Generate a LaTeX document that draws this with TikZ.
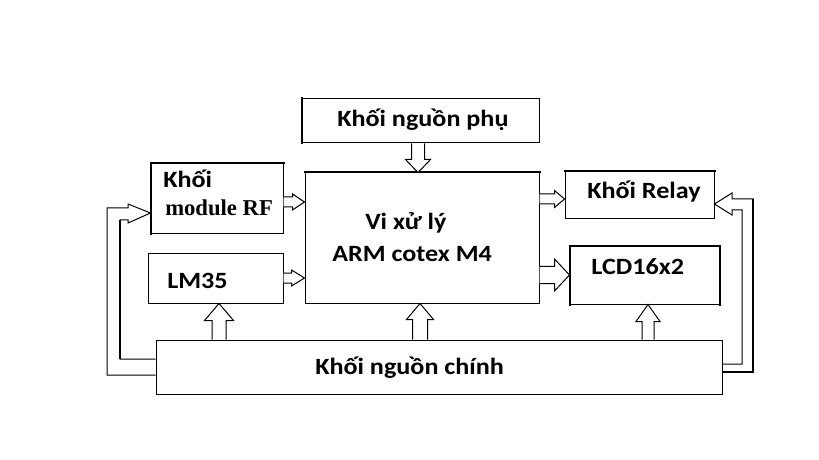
\documentclass[tikz,border=0pt]{standalone}
\usepackage{fontspec}
\setmainfont{Carlito}[FakeStretch=1.12]
\newfontfamily\tnr{Liberation Serif}
\usetikzlibrary{fit,calc}
% vertical block arrow: #1 x(px) #2 from #3 to #4 shaft half #5 head half #6 head length (px, signed)
\newcommand\blkv[6]{\draw[blk] let \p1=(#1,0 |- #2), \p2=(#1,0 |- #3) in
  (\x1-#4*0.75pt,\y1) -- (\x1-#4*0.75pt,\y2-#6*0.75pt) -- (\x1-#5*0.75pt,\y2-#6*0.75pt) -- (\x2,\y2)
  -- (\x1+#5*0.75pt,\y2-#6*0.75pt) -- (\x1+#4*0.75pt,\y2-#6*0.75pt) -- (\x1+#4*0.75pt,\y1);}
% horizontal block arrow: #1 y(px)
\newcommand\blkh[6]{\draw[blk] let \p1=(#2 |- 0,#1), \p2=(#3 |- 0,#1) in
  (\x1,\y1+#4*0.75pt) -- (\x2-#6*0.75pt,\y1+#4*0.75pt) -- (\x2-#6*0.75pt,\y1+#5*0.75pt) -- (\x2,\y2)
  -- (\x2-#6*0.75pt,\y1-#5*0.75pt) -- (\x2-#6*0.75pt,\y1-#4*0.75pt) -- (\x1,\y1-#4*0.75pt);}
\begin{document}
\begin{tikzpicture}[x=0.75pt,y=-0.75pt,
  box/.style={draw, line width=0.75pt, inner sep=0pt},
  blk/.style={draw, line width=0.75pt, fill=white, line join=miter},
  lbl/.style={anchor=base west, inner sep=0pt, font=\bfseries\fontsize{17.5}{20}\selectfont},
  wire/.style={draw, line width=0.75pt, line join=miter},
  edge/.style={line width=1.5pt, line cap=rect}]
\fill[white] (0,0) rectangle (819,460);
\useasboundingbox (0,0) rectangle (819,460);
% boxes
\node[box, fit={(302,99)(539,143)}] (phu) {};
\node[box, fit={(305,173)(539,303)}] (cpu) {};
\node[box, fit={(151,164)(283,234)}] (rf) {};
\node[box, fit={(148,254)(283,303)}] (lm) {};
\node[box, fit={(156,340)(722,394)}] (chinh) {};
\node[box, fit={(565,172)(714,219)}] (relay) {};
\node[box, fit={(570,247)(719,304)}] (lcd) {};
% heavier edges as in the reference
\draw[edge] (phu.south west) -- (phu.north west);
\draw[edge] (cpu.north west) -- (cpu.north east);
\draw[edge] (rf.south west) -- (rf.north west) -- (rf.north east);
\draw[edge] (relay.north west) -- (relay.north east);
\draw[edge] (lcd.south west) -- (lcd.north west) -- (lcd.north east) -- (lcd.south east);
% labels
\node[lbl] (tphu) at (337,127) {Khối nguồn phụ};
\node[lbl] (trf1) at (163,188) {Khối};
\node[lbl, font=\tnr\bfseries\fontsize{17}{20}\selectfont] (trf2) at (165,215) {module RF};
\node[lbl] (tlm) at (167,288) {LM35};
\node[lbl] (tcpu1) at (365,229) {Vi xử lý};
\node[lbl] (tcpu2) at (332,262) {ARM cotex M4};
\node[lbl] (tchinh) at (315,374) {Khối nguồn chính};
\node[lbl] (trelay) at (587,199) {Khối Relay};
\node[lbl] (tlcd) at (591,275) {LCD16x2};
% block arrows
\blkv{418}{phu.south}{cpu.north}{6.5}{12.5}{-13}
\blkh{202}{rf.east}{cpu.west}{5}{8}{12}
\blkh{278}{lm.east}{cpu.west}{5}{8}{13}
\blkh{199}{cpu.east}{relay.west}{5}{8.5}{10}
\blkh{275}{cpu.east}{lcd.west}{8.5}{16}{15}
\blkv{219}{chinh.north}{lm.south}{7}{14.5}{17}
\blkv{420}{chinh.north}{cpu.south}{7.5}{13.5}{16}
\blkv{648}{chinh.north}{lcd.south}{6}{12}{17}
% left double connector to RF
\coordinate (lt) at (rf.west |- 0,213);
\draw[wire] (chinh.west |- 0,375) -- (107,375) -- (107,208) -- (128,208) -- (128,204) -- (lt)
  -- (128,223) -- (128,220) -- (120,220) -- (120,359) -- (chinh.west |- 0,359);
\draw[line width=1.6pt] (120,220) -- (120,359);
% right double connector to Relay
\coordinate (rt) at (relay.east |- 0,204);
\draw[wire] (chinh.east |- 0,364) -- (742,364) -- (742,210) -- (732,210) -- (732,215) -- (rt)
  -- (732,193) -- (732,199) -- (753,199) -- (753,372) -- (chinh.east |- 0,372);
\draw[line width=1.6pt] (753,199) -- (753,372) -- (chinh.east |- 0,372);
\end{tikzpicture}
\end{document}
